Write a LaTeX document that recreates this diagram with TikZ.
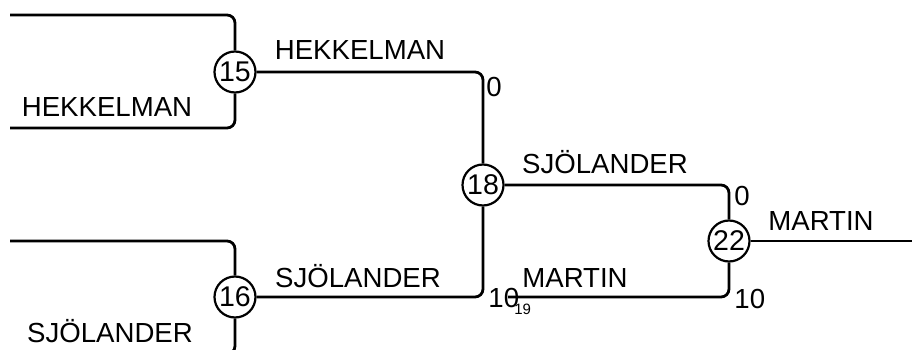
\documentclass[tikz,border=0pt]{standalone}
\usepackage{fontspec}
\setmainfont{Liberation Sans}
\begin{document}
\begin{tikzpicture}[x=1pt,y=-1pt,
  line width=2.8pt, rounded corners=8pt,
  seed/.style={circle, draw, line width=2.2pt, minimum size=41pt, inner sep=0pt,
    font=\fontsize{28.5}{30}\selectfont, fill=white},
  lbl/.style={font=\fontsize{27.6}{30}\selectfont, inner sep=0pt, anchor=base},
  score/.style={font=\fontsize{27.6}{30}\selectfont, inner sep=0pt, anchor=base west},
  small/.style={font=\fontsize{15}{16}\selectfont, inner sep=0pt, anchor=base west}]
\useasboundingbox (0,0) rectangle (912,350);
\clip (0,0) rectangle (912,350);
% seeds
\node[seed] (s15) at (235,72) {15};
\node[seed] (s16) at (235,297) {16};
\node[seed] (s18) at (483,185) {18};
\node[seed] (s22) at (729,241) {22};
% free ends
\coordinate (a1) at (10,15);
\coordinate (a2) at (10,128);
\coordinate (b1) at (10,241);
\coordinate (b2) at (10,354);
\coordinate (m19) at (508,297);
\coordinate (out) at (912,241);
% connectors
\draw (a1) -| (s15.north);
\draw (a2) -| (s15.south);
\draw (b1) -| (s16.north);
\draw (b2) -| (s16.south);
\draw (s15.east) -| (s18.north);
\draw (s16.east) -| (s18.south);
\draw (s18.east) -| (s22.north);
\draw (m19) -| (s22.south);
\draw (s22.east) -- (out);
% labels
\node[lbl] (t1) at (107,117) {HEKKELMAN};
\node[lbl] (t2) at (110,342) {SJÖLANDER};
\node[lbl] (t3) at (360,60) {HEKKELMAN};
\node[lbl] (t4) at (358,287) {SJÖLANDER};
\node[lbl] (t5) at (605,173) {SJÖLANDER};
\node[lbl] (t6) at (575,287) {MARTIN};
\node[lbl] (t7) at (821,230) {MARTIN};
\node[score] (n1) at (485,97) {0};
\node[score] (n2) at (733,205) {0};
\node[score] (n3) at (487,307) {10};
\node[score] (n4) at (733,308) {10};
\node[small] (n5) at (513,314) {19};
\end{tikzpicture}
\end{document}
